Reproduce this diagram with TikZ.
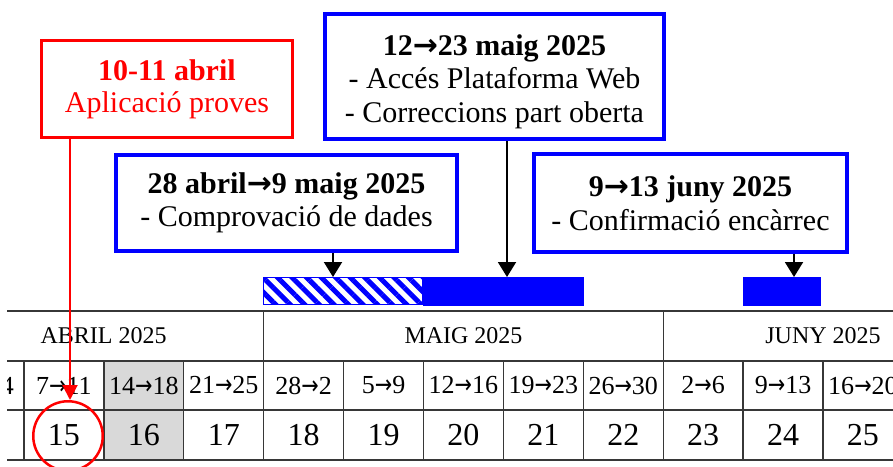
\documentclass[tikz,border=0pt]{standalone}
\usepackage{fontspec}
\setmainfont{Liberation Serif}
\newfontfamily\arrowfont{DejaVu Sans}
\newcommand{\ra}{{\arrowfont →}}
\newcommand{\rab}{{\arrowfont\bfseries →}}
\usetikzlibrary{arrows.meta,patterns.meta}
\definecolor{myblue}{RGB}{0,0,255}
\definecolor{myred}{RGB}{255,0,0}
\definecolor{cellgray}{RGB}{217,217,217}
\definecolor{gridc}{RGB}{55,55,55}
\begin{document}
\begin{tikzpicture}[x=1pt,y=-1pt,
  bluebox/.style={draw=myblue, line width=4pt, align=center, inner sep=0pt,
    font=\fontsize{30}{33.5}\selectfont},
  redbox/.style={draw=myred, line width=3pt, text=myred, align=center, inner sep=0pt,
    font=\fontsize{30}{32}\selectfont},
  arr/.style={line width=2pt, -{Triangle[width=18pt,length=15pt]}},
  redarr/.style={draw=myred, line width=2pt, -{Triangle[width=15pt,length=15pt]}},
  solidbar/.style={fill=myblue, inner sep=0pt},
  hatchbar/.style={draw=myblue, line width=1.2pt, inner sep=0pt,
    pattern={Lines[angle=-45,distance=10.3pt,line width=5pt]}, pattern color=myblue},
  grid/.style={draw=gridc, line width=1.3pt},
  monthtxt/.style={font=\fontsize{24}{24}\selectfont, inner sep=0pt},
  weektxt/.style={font=\fontsize{26}{26}\selectfont, inner sep=0pt},
  numtxt/.style={font=\fontsize{32}{32}\selectfont, inner sep=0pt}
]
\useasboundingbox (0,0) rectangle (893,466);

% ---- table ----
\begin{scope}
\clip (7,300) rectangle (893,466);
\fill[cellgray] (103.9,361) rectangle (183.8,460);
\foreach \y in {311,361,410,460} \draw[grid] (7,\y) -- (893,\y);
\draw[grid] (263.7,311) -- (263.7,361);
\draw[grid] (663.2,311) -- (663.2,361);
\foreach \k in {0,...,10} \draw[grid] ({24+79.9*\k},361) -- ({24+79.9*\k},460);
\node[monthtxt] (mabr) at (103.5,336) {ABRIL 2025};
\node[monthtxt] (mmai) at (463.5,336) {MAIG 2025};
\node[monthtxt] (mjun) at (823,336) {JUNY 2025};
\node[weektxt, anchor=east] (wprev) at (14,385.5) {4};
\foreach \a/\b [count=\i from 0] in {7/11,14/18,21/25,28/2,5/9,12/16,19/23,26/30,2/6,9/13,16/20}
  \node[weektxt] (w\i) at ({24+79.9*(\i+0.5)},385.5) {\a\scalebox{0.8}[1]{\ra}\b};
\foreach \t [count=\i from 0] in {15,16,17,18,19,20,21,22,23,24,25}
  \node[numtxt] (n\i) at ({24+79.9*(\i+0.5)},435) {\t};
\end{scope}

% ---- bars ----
\node[hatchbar, minimum width=158.8pt, minimum height=26.8pt] (h1) at (343,291) {};
\node[solidbar, minimum width=161pt, minimum height=29pt] (s1) at (503.5,291.5) {};
\node[solidbar, minimum width=78pt, minimum height=29pt] (s2) at (782,291.5) {};

% ---- boxes ----
\node[redbox, minimum width=251pt, minimum height=97pt] (rb) at (167,89)
  {\textbf{10-11 abril}\\Aplicació proves};
\node[bluebox, minimum width=339pt, minimum height=125pt] (b1) at (494.5,76.5)
  {\rule{0pt}{31pt}\textbf{12\rab23 maig 2025}\\- Accés Plataforma Web\\- Correccions part oberta};
\node[bluebox, minimum width=341pt, minimum height=96pt] (b2) at (286.5,203)
  {\textbf{28 abril\rab9 maig 2025}\\- Comprovació de dades};
\node[bluebox, minimum width=313pt, minimum height=98pt] (b3) at (690.5,203)
  {\textbf{9\rab13 juny 2025}\\- Confirmació encàrrec};

% ---- connectors ----
\coordinate (p1) at (333,277);
\coordinate (p2) at (507,277);
\coordinate (p3) at (794,277);
\coordinate (p4) at (70,400);
\draw[arr] (b2.south -| p1) -- (p1);
\draw[arr] (b1.south -| p2) -- (p2);
\draw[arr] (b3.south -| p3) -- (p3);
\draw[redarr] (rb.south -| p4) -- (p4);
\node[draw=myred, line width=2.5pt, circle, minimum size=69.5pt, inner sep=0pt] (circ) at (68,436) {};
\end{tikzpicture}
\end{document}
